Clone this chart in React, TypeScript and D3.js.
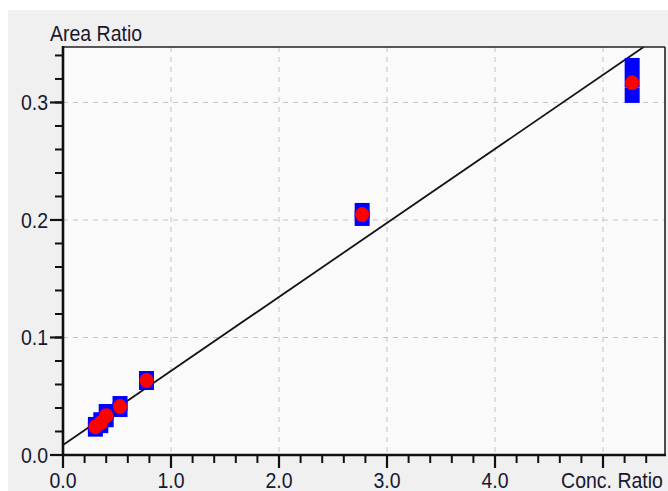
import React from "react";
import * as d3 from "d3";

// ---- data ----
const concRatio = [0.30, 0.35, 0.40, 0.528, 0.773, 2.77, 5.27];
const replicateAreaRatios = [
  [0.022, 0.026],
  [0.025, 0.030],
  [0.030, 0.037],
  [0.0438, 0.0387],
  [0.0651, 0.0617],
  [0.2081, 0.2013],
  [0.3315, 0.319, 0.306],
];
const meanAreaRatio = [0.024, 0.0275, 0.0335, 0.0413, 0.0634, 0.2047, 0.3168];
const fitIntercept = 0.0085;
const fitSlope = 0.063;

const xTickValues = [0, 1, 2, 3, 4, 5];
const xTickLabels = ["0.0", "1.0", "2.0", "3.0", "4.0", "Conc. Ratio"];
const yTickValues = [0, 0.1, 0.2, 0.3];
const yTickLabels = ["0.0", "0.1", "0.2", "0.3"];
const yAxisTitle = "Area Ratio";

const W = 668;
const H = 491;
const L = 63, R = 665, T = 47, B = 455;

export default function App() {
  const x = d3.scaleLinear().domain([0, 5.574]).range([L, R]);
  const y = d3.scaleLinear().domain([0, 0.3472]).range([B, T]);
  const xMinor = d3.range(0, 5.5, 0.2);
  const yMinor = d3.range(0, 0.345, 0.02);
  const font = "'Liberation Sans', Arial, sans-serif";
  const textColor = "#181830";
  const sy = 1.15;
  const fs = 19.5;
  const sq = 15;

  const xEnd = (y.domain()[1] - fitIntercept) / fitSlope;
  const line = d3.line<[number, number]>().x((d) => x(d[0])).y((d) => y(d[1]));
  const fitPts: [number, number][] = [
    [0, fitIntercept],
    [xEnd, fitIntercept + fitSlope * xEnd],
  ];

  return (
    <svg
      width={W}
      height={H}
      style={{ position: "fixed", left: 0, top: 0, background: "#ffffff" }}
    >
      <rect x={8} y={10} width={W - 8} height={H - 10} fill="#f0f0f0" />
      <rect x={L} y={T} width={R - L} height={B - T} fill="#fafafa" />

      {/* grid */}
      {xTickValues.slice(1).map((v) => (
        <line key={"gx" + v} x1={x(v)} x2={x(v)} y1={T} y2={B}
          stroke="#c4c4c4" strokeWidth={1} strokeDasharray="5,5" />
      ))}
      {yTickValues.slice(1).map((v) => (
        <line key={"gy" + v} x1={L} x2={R} y1={y(v)} y2={y(v)}
          stroke="#c4c4c4" strokeWidth={1} strokeDasharray="5,5" />
      ))}

      {/* fit line */}
      <path d={line(fitPts) || ""} stroke="#141414" strokeWidth={1.8} fill="none" />

      {/* replicate squares */}
      {concRatio.map((c, i) =>
        replicateAreaRatios[i].map((v, j) => (
          <rect key={"s" + i + "_" + j} x={x(c) - sq / 2} y={y(v) - sq / 2}
            width={sq} height={sq} fill="#0000ff" />
        ))
      )}
      {/* mean circles */}
      {concRatio.map((c, i) => (
        <ellipse key={"m" + i} cx={x(c)} cy={y(meanAreaRatio[i])} rx={7} ry={7.5} fill="#ff0000" />
      ))}

      {/* frame */}
      <line x1={L} x2={R} y1={T} y2={T} stroke="#222" strokeWidth={1.6} />
      <line x1={R} x2={R} y1={T} y2={B} stroke="#222" strokeWidth={1.6} />
      <line x1={L} x2={L} y1={T - 1} y2={B + 1} stroke="#111" strokeWidth={2.6} />
      <line x1={L - 1} x2={R + 1} y1={B} y2={B} stroke="#111" strokeWidth={2.6} />

      {/* x ticks */}
      {xMinor.map((v) => (
        <line key={"xm" + v} x1={x(v)} x2={x(v)} y1={B} y2={B + 8} stroke="#111" strokeWidth={2} />
      ))}
      {xTickValues.map((v) => (
        <line key={"xM" + v} x1={x(v)} x2={x(v)} y1={B} y2={B + 13} stroke="#111" strokeWidth={2.2} />
      ))}
      {/* y ticks */}
      {yMinor.map((v) => (
        <line key={"ym" + v} x1={L - 8} x2={L} y1={y(v)} y2={y(v)} stroke="#111" strokeWidth={2} />
      ))}
      {yTickValues.map((v) => (
        <line key={"yM" + v} x1={L - 13} x2={L} y1={y(v)} y2={y(v)} stroke="#111" strokeWidth={2.2} />
      ))}

      {/* x labels */}
      {xTickValues.map((v, i) => (
        <text key={"xl" + v}
          transform={`translate(${i === xTickValues.length - 1 ? 612 : x(v)},488) scale(1,${sy})`}
          textAnchor="middle" fontFamily={font} fontSize={fs} fill={textColor}>
          {xTickLabels[i]}
        </text>
      ))}
      {/* y labels */}
      {yTickValues.map((v, i) => (
        <text key={"yl" + v}
          transform={`translate(48,${y(v) + 8}) scale(1,${sy})`}
          textAnchor="end" fontFamily={font} fontSize={fs} fill={textColor}>
          {yTickLabels[i]}
        </text>
      ))}
      <text transform={`translate(50,41) scale(1,${sy})`} fontFamily={font}
        fontSize={fs} fill={textColor}>
        {yAxisTitle}
      </text>
    </svg>
  );
}
